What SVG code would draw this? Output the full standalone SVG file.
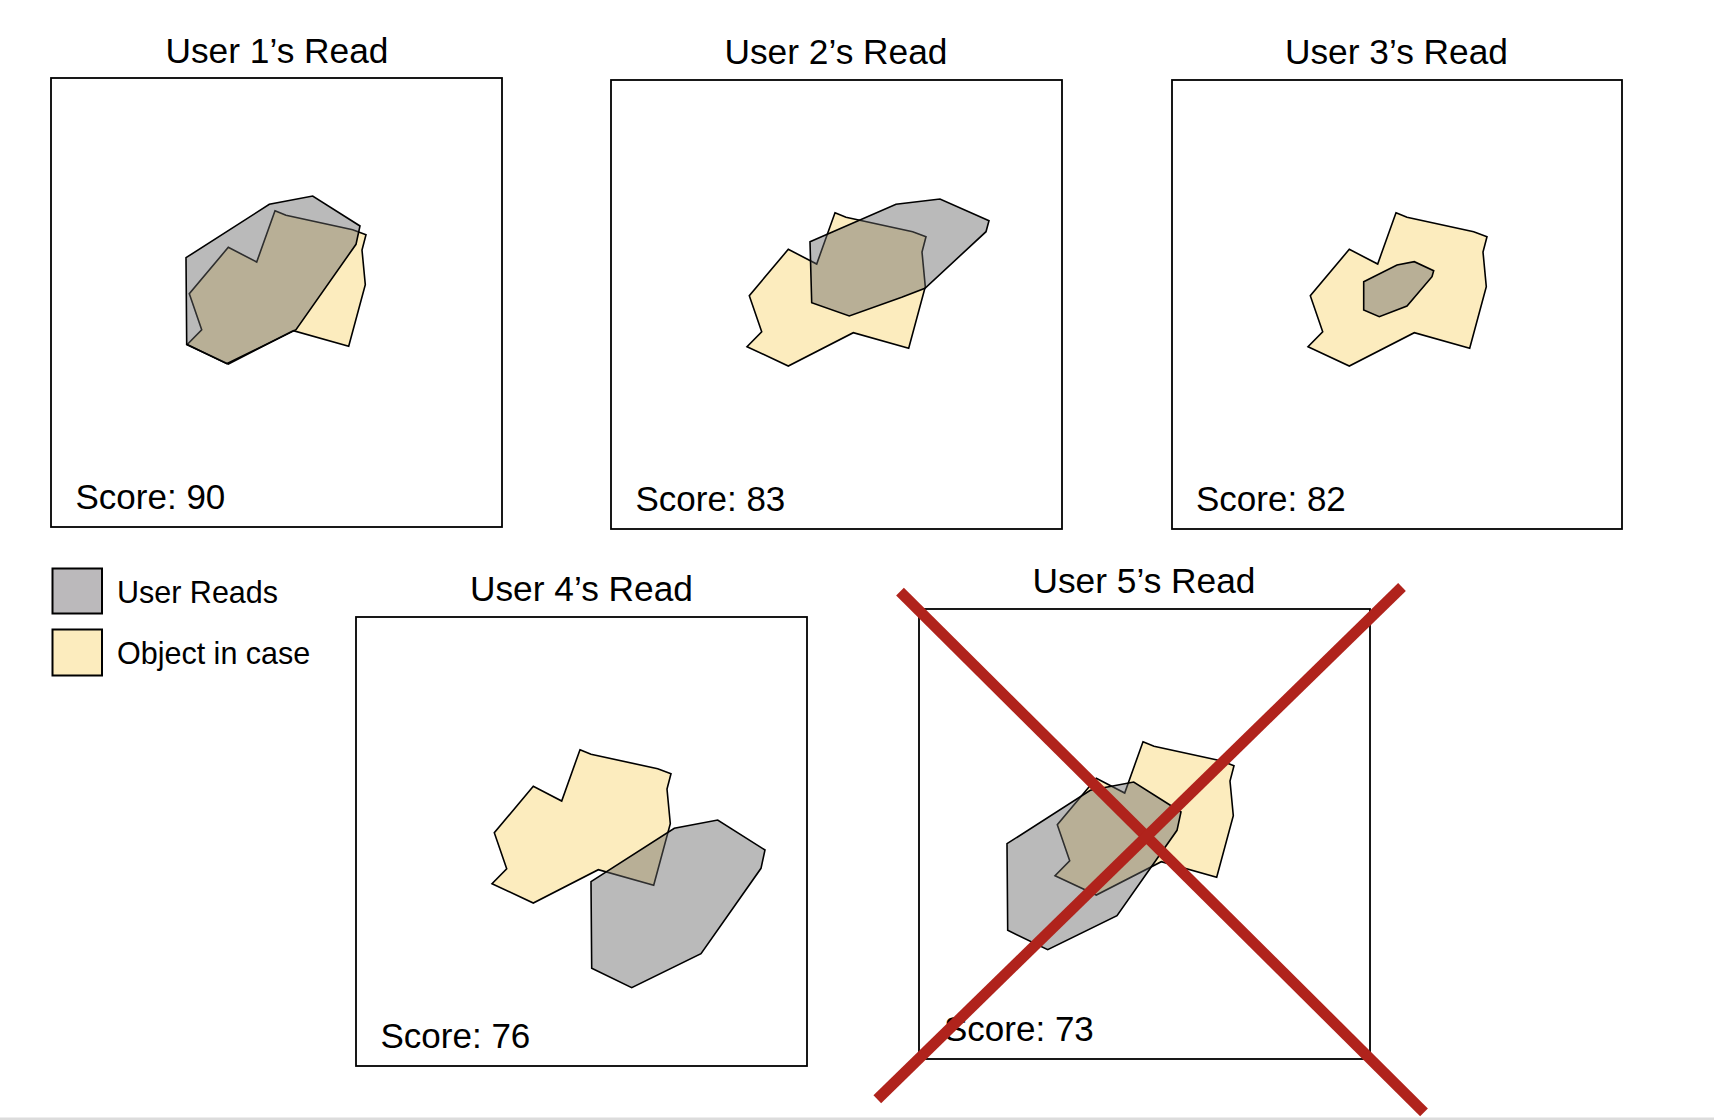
<svg xmlns="http://www.w3.org/2000/svg" xmlns:xlink="http://www.w3.org/1999/xlink" width="1714" height="1120" viewBox="0 0 1714 1120">
  <style>
    .frame { fill: #ffffff; stroke: #000000; stroke-width: 1.8; }
    .obj { fill: #fcecbe; stroke: #000000; stroke-width: 1.6; stroke-linejoin: miter; }
    .read { fill: #666666; fill-opacity: 0.45; stroke: #000000; stroke-width: 1.6; stroke-linejoin: miter; }
    .title { font-family: "Liberation Sans", Arial, sans-serif; font-size: 35.3px; fill: #000000; text-anchor: middle; }
    .score { font-family: "Liberation Sans", Arial, sans-serif; font-size: 35px; fill: #000000; }
    .legend { font-family: "Liberation Sans", Arial, sans-serif; font-size: 30.5px; fill: #000000; }
    .swatch { stroke: #000000; stroke-width: 2; }
    .cross { stroke: #b0231c; stroke-width: 11; stroke-linecap: butt; fill: none; }
  </style>
  <defs>
    <polygon id="object" class="obj" points="224,132.7 235,137.3 301.7,151.7 315,156.7 311,172 314.3,206.7 297.7,268.3 242.3,252.7 177.3,286 136,266.7 150.7,251.7 138.3,215.7 177.3,169.3 205.7,184"/>
    <polygon id="readA" class="read" points="135,179.7 218.3,126.3 261.7,118 309,148 305,166.3 245,251.7 175.7,285.7 135.7,266.3"/>
  </defs>

  <rect x="0" y="0" width="1714" height="1120" fill="#ffffff"/>

  <!-- Panel 1 -->
  <g id="panel-user1">
    <text class="title" x="277" y="62.5">User 1’s Read</text>
    <g transform="translate(51,78)">
      <rect class="frame" x="0" y="0" width="451" height="449"/>
      <use xlink:href="#object" href="#object"/>
      <use xlink:href="#readA" href="#readA"/>
      <text class="score" x="24.5" y="431">Score: 90</text>
    </g>
  </g>

  <!-- Panel 2 -->
  <g id="panel-user2">
    <text class="title" x="836" y="64">User 2’s Read</text>
    <g transform="translate(611,80)">
      <rect class="frame" x="0" y="0" width="451" height="449"/>
      <use xlink:href="#object" href="#object"/>
      <polygon class="read" points="199,161.7 285,124.3 329,119 378,140.7 375,151.7 314,208.3 290.7,217.3 238.3,236 200.7,222.7"/>
      <text class="score" x="24.5" y="431">Score: 83</text>
    </g>
  </g>

  <!-- Panel 3 -->
  <g id="panel-user3">
    <text class="title" x="1396.5" y="64">User 3’s Read</text>
    <g transform="translate(1172,80)">
      <rect class="frame" x="0" y="0" width="450" height="449"/>
      <use xlink:href="#object" href="#object"/>
      <polygon class="read" points="191.7,201.7 225,185 242.3,181.7 261.7,190.7 260,196.7 235,226 207.3,236.7 191.7,230"/>
      <text class="score" x="24" y="431">Score: 82</text>
    </g>
  </g>

  <!-- Legend -->
  <g id="legend">
    <rect class="swatch" x="52.5" y="568.5" width="49.5" height="45" fill="#bbb9bb"/>
    <text class="legend" x="117" y="603">User Reads</text>
    <rect class="swatch" x="52.5" y="629.5" width="49.5" height="46" fill="#fcecbe"/>
    <text class="legend" x="117" y="664">Object in case</text>
  </g>

  <!-- Panel 4 -->
  <g id="panel-user4">
    <text class="title" x="581.5" y="600.5">User 4’s Read</text>
    <g transform="translate(356,617)">
      <rect class="frame" x="0" y="0" width="451" height="449"/>
      <use xlink:href="#object" href="#object"/>
      <use xlink:href="#readA" href="#readA" transform="translate(100,85)"/>
      <text class="score" x="24.5" y="431">Score: 76</text>
    </g>
  </g>

  <!-- Panel 5 -->
  <g id="panel-user5">
    <text class="title" x="1144" y="593">User 5’s Read</text>
    <g transform="translate(919,609)">
      <rect class="frame" x="0" y="0" width="451" height="450"/>
      <use xlink:href="#object" href="#object"/>
      <use xlink:href="#readA" href="#readA" transform="translate(-47,55)"/>
      <text class="score" x="25" y="432">Score: 73</text>
    </g>
  </g>

  <!-- Rejection mark over panel 5 -->
  <g id="reject-mark">
    <line class="cross" x1="900" y1="591.7" x2="1424" y2="1112.3"/>
    <line class="cross" x1="1402" y1="587" x2="877.3" y2="1099.3"/>
  </g>

  <rect x="0" y="1117.5" width="1714" height="2.5" fill="#dcdcdc"/>
</svg>
